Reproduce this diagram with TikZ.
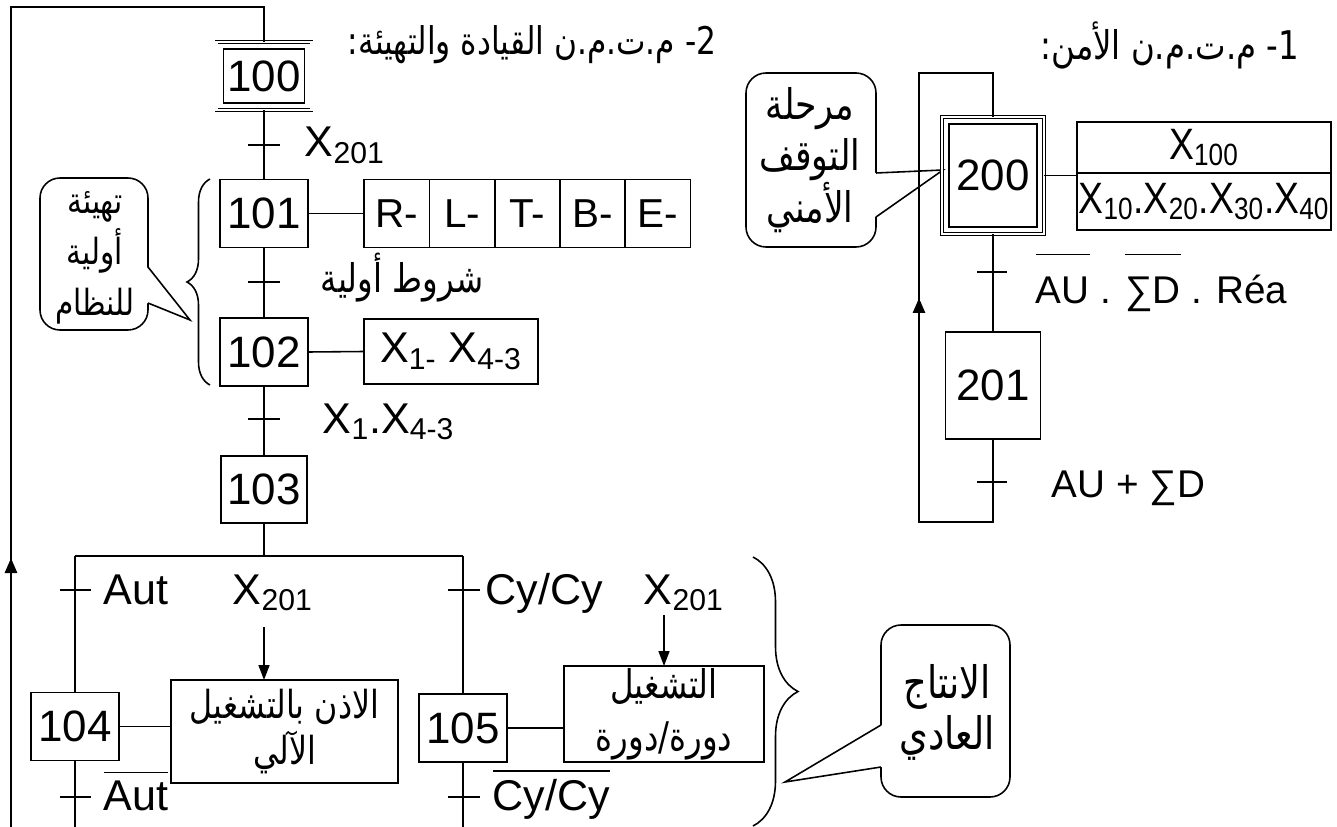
\documentclass[tikz,border=0pt]{standalone}
\usepackage{fontspec}
\setmainfont{Liberation Sans}
\newfontfamily\arabicfont[Script=Arabic, FakeStretch=0.82]{DejaVu Sans}
\newfontfamily\narrowfont[FakeStretch=0.85]{Liberation Sans}
\TeXXeTstate=1
\usetikzlibrary{arrows.meta,decorations.pathreplacing,positioning}
\newcommand\ar[1]{{\arabicfont\beginR #1\endR}}
\newcommand\barred[2][4pt]{\vbox{\hrule height 0.8pt\kern#1\hbox{#2}}}

\begin{document}
\begin{tikzpicture}[x=0.02cm, y=-0.02cm, line width=0.9pt,
    stepbox/.style={draw, inner sep=0pt, outer sep=0pt, minimum width=1.76cm, minimum height=1.36cm,
        font=\fontsize{25}{30}\selectfont},
    initstep/.style={stepbox, double, double distance=1.2pt, line width=0.5pt,
        path picture={\draw[line width=0.6pt]
            ([xshift=0.14cm,yshift=-0.14cm]path picture bounding box.north west) rectangle
            ([xshift=-0.14cm,yshift=0.14cm]path picture bounding box.south east);}},
    actbox/.style={draw, inner sep=0pt, outer sep=0pt, minimum height=1.36cm, font=\fontsize{23}{27}\selectfont},
    lbl/.style={inner sep=0pt, font=\fontsize{24.5}{29}\selectfont},
    lbltwo/.style={inner sep=0pt, font=\fontsize{22}{26}\selectfont},
    arlbl/.style={inner sep=0pt, align=center, font=\arabicfont\fontsize{24}{29.5}\selectfont},
    transbar/.style={line width=1.4pt},
    thinbar/.style={line width=0.6pt},
    bigarrow/.style={-{Triangle[length=0.3cm,width=0.24cm]}, line width=1.6pt},
    downarrow/.style={-{Triangle[length=0.3cm,width=0.22cm]}, line width=0.9pt},
    bubble/.style={rounded corners=0.4cm}
]
\useasboundingbox (0,0) rectangle (1337,827);

% callouts
\draw[bubble] (40,178) rectangle (148,330);
\fill[white] (147,267) -- (190,320) -- (147,303) -- cycle;
\draw (148,267) -- (190,320) -- (148,303);
\node[arlbl, font=\arabicfont\fontsize{20.5}{29}\selectfont] (b100) at (95,258) {\ar{تهيئة}\\\ar{أولية}\\\ar{للنظام}};

\draw[bubble] (746,73) rectangle (876,247);
\fill[white] (875,173) -- (943,170) -- (875,217) -- cycle;
\draw (876,173) -- (943,170) -- (876,217);
\node[arlbl] (b200) at (810,160) {\ar{مرحلة}\\\ar{التوقف}\\\ar{الأمني}};

\draw[bubble] (881,625) rectangle (1010,797);
\fill[white] (882,725) -- (785,782) -- (882,767) -- cycle;
\draw (881,725) -- (785,782) -- (881,767);
\node[arlbl, font=\arabicfont\fontsize{25.5}{29}\selectfont] (b104) at (947,712) {\ar{الانتاج}\\\ar{العادي}};

% titles
\node[arlbl, anchor=east, font=\arabicfont\fontsize{21.7}{24}\selectfont] (title2) at (717,45)
    {\ar{2- م.ت.م.ن القيادة والتهيئة:}};
\node[arlbl, anchor=east, font=\arabicfont\fontsize{22.5}{24}\selectfont] (title1) at (1300,45)
    {\ar{1- م.ت.م.ن الأمن:}};

% grafcet 2
\node[initstep, minimum width=1.9cm] (s100) at (264,76) {100};
\node[stepbox] (s101) at (264,213.5) {101};
\node[stepbox] (s102) at (264,352) {102};
\node[stepbox, minimum width=1.72cm, minimum height=1.34cm] (s103) at (264,489.5) {103};
\node[stepbox] (s104) at (75,726.5) {104};
\node[stepbox] (s105) at (463,728) {105};

\foreach \t [count=\i] in {R-,L-,T-,B-,E-}
    \node[actbox, minimum width=1.31cm, anchor=west] (a101-\i) at (364+65.3*\i-65.3,213.5) {\t};
\node[actbox, minimum width=3.48cm, minimum height=1.3cm, font=\fontsize{24.5}{29}\selectfont] (a102) at (451,351.5)
    {X\textsubscript{1-} X\textsubscript{4-3}};
\node[actbox, minimum width=4.54cm, minimum height=2.06cm, align=center, font=\arabicfont\fontsize{22}{26}\selectfont]
    (a104) at (284.5,731.5) {\ar{الاذن بالتشغيل}\\\ar{الآلي}};
\node[actbox, minimum width=4cm, minimum height=1.92cm, align=center, font=\arabicfont\fontsize{22.5}{29.5}\selectfont]
    (a105) at (664,714) {\ar{التشغيل}\\\ar{دورة/دورة}};

\draw (s101.east) -- (a101-1.west);
\draw (s102.east) -- (a102.west);
\draw (s104.east) -- (s104.east -| a104.west);
\draw (s105.east) -- (s105.east -| a105.west);

\coordinate (top100) at (264,7);
\coordinate (topL) at (11,7);
\coordinate (botL) at (11,827);
\draw (s100.north) -- (top100) -- (topL) -- (botL);
\draw[bigarrow] (11,607) -- (11,558);

\draw (s100.south) -- (s101.north);
\draw (s101.south) -- (s102.north);
\draw (s102.south) -- (s103.north);
\coordinate (div) at (264,556);
\coordinate (divL) at (75,556);
\coordinate (divR) at (463,556);
\coordinate (endL) at (75,827);
\coordinate (endR) at (463,827);
\draw (s103.south) -- (div);
\draw (divL) -- (divR);
\draw (divL) -- (s104.north);
\draw (divR) -- (s105.north);
\draw (s104.south) -- (endL);
\draw (s105.south) -- (endR);

\draw[transbar] (248,145) -- (280,145);
\draw[transbar] (248,282) -- (280,282);
\draw[transbar] (248,419) -- (280,419);
\draw[transbar] (60,590) -- (91,590);
\draw[transbar] (448,590) -- (480,590);
\draw[transbar] (60,797) -- (91,797);
\draw[transbar] (448,797) -- (480,797);

\node[lbl, anchor=base west] (c1) at (304,157) {X\textsubscript{201}};
\node[arlbl, anchor=base, font=\arabicfont\fontsize{22.5}{24}\selectfont] (c2) at (402,293) {\ar{شروط أولية}};
\node[lbl, anchor=base west] (c3) at (322,433) {X\textsubscript{1}.X\textsubscript{4-3}};
\node[lbl, anchor=base west] (c4) at (103,604) {Aut};
\node[lbl, anchor=base west] (c5) at (485,604) {Cy/Cy};
\node[lbl, anchor=base west] (c6) at (103,810) {\barred{Aut}};
\node[lbl, anchor=base west] (c7) at (492,810) {\barred{Cy/Cy}};

\node[lbl, anchor=base west] (x104) at (232,604) {X\textsubscript{201}};
\node[lbl, anchor=base west] (x105) at (643,604) {X\textsubscript{201}};
\coordinate (x104a) at (264,627);
\coordinate (x105a) at (664,615);
\draw[downarrow] (x104a) -- (x104a |- a104.north);
\draw[downarrow] (x105a) -- (x105a |- a105.north);

\draw[decorate, decoration={brace, amplitude=0.46cm}] (210,385) -- (210,179);
\draw[decorate, decoration={brace, amplitude=0.9cm}] (753,557) -- (753,826);

% grafcet 1
\node[initstep, minimum width=2.04cm, minimum height=2.34cm] (s200) at (993,175.5) {200};
\node[stepbox, minimum width=1.9cm, minimum height=2.14cm] (s201) at (993,385.5) {201};
\node[actbox, minimum width=5.08cm, minimum height=1.02cm, anchor=south west, font=\narrowfont\fontsize{25}{29}\selectfont]
    (a200t) at (1077,173) {X\textsubscript{100}};
\node[actbox, minimum width=5.08cm, minimum height=1.14cm, anchor=north west, font=\narrowfont\fontsize{25}{29}\selectfont]
    (a200b) at (1077,173) {X\textsubscript{10}.X\textsubscript{20}.X\textsubscript{30}.X\textsubscript{40}};
\draw (s200.east) -- (s200.east -| a200t.west);

\coordinate (top200) at (993,73);
\coordinate (topL2) at (919,73);
\coordinate (botL2) at (919,522);
\coordinate (bot201) at (993,522);
\draw (s200.south) -- (s201.north);
\draw (s201.south) -- (bot201) -- (botL2) -- (topL2) -- (top200) -- (s200.north);
\draw[bigarrow] (919,347) -- (919,298);

\draw[thinbar] (977,272) -- (1007,272);
\draw[thinbar] (977,482) -- (1007,482);
\node[lbltwo, anchor=base west] (c8) at (1035,303) {\barred[12pt]{AU} . \barred[12pt]{∑D} . Réa};
\node[lbltwo, anchor=base west] (c9) at (1051,497) {AU + ∑D};
\end{tikzpicture}
\end{document}
